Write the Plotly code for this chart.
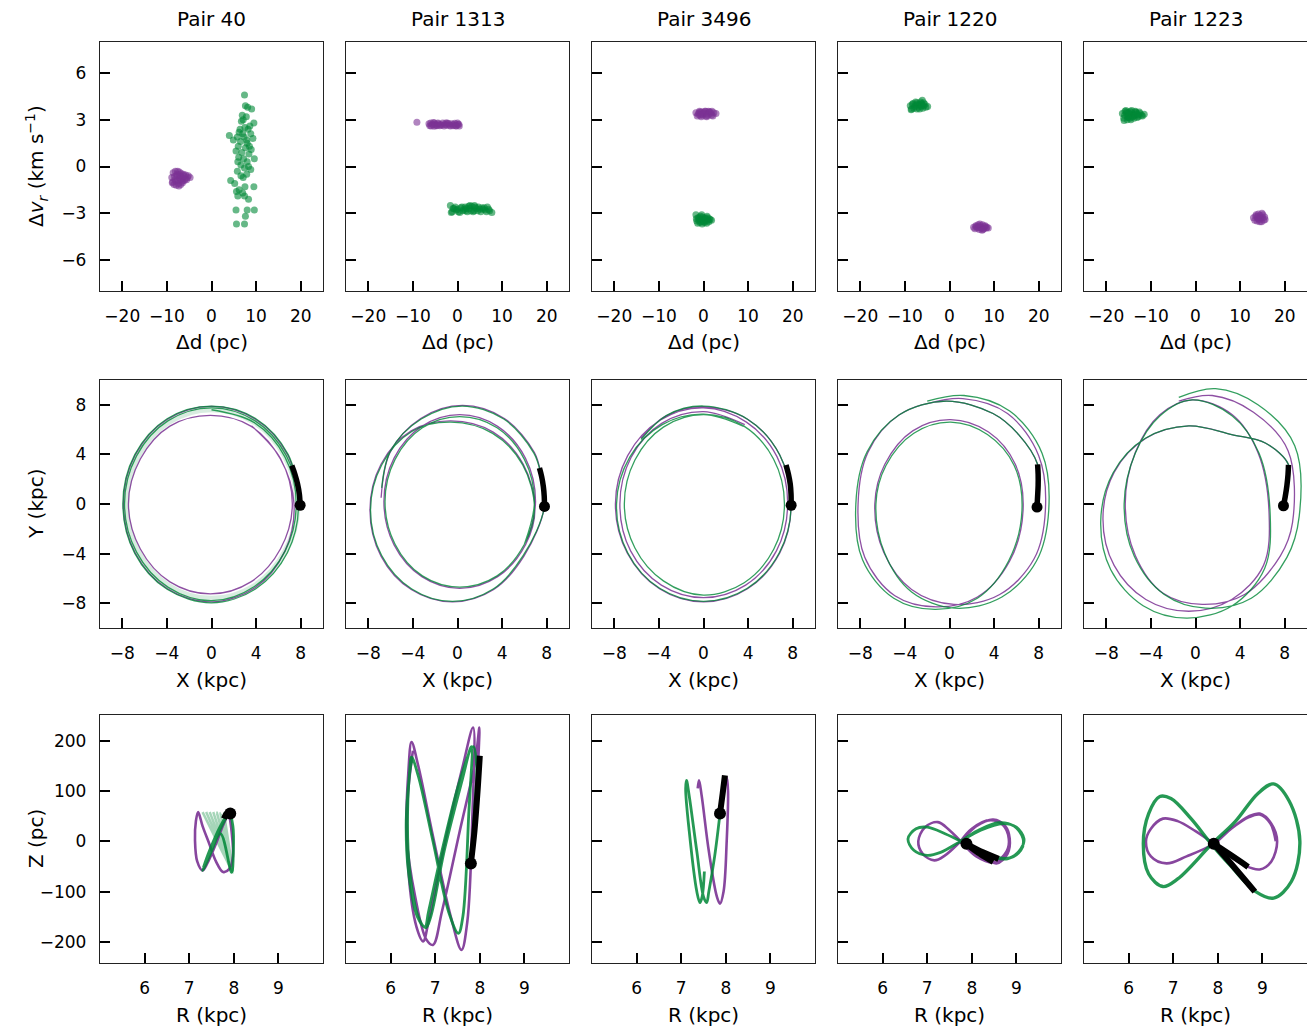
import plotly.graph_objects as go
from plotly.subplots import make_subplots

# The page body has an 8px margin, so the figure is drawn 8px smaller and shifted.
OFF = 8
W, H = 1315 - OFF, 1028 - OFF
PURPLE = '#7b3294'
GREEN = '#008837'
FONT = 'DejaVu Sans'

pairs = ['Pair 40', 'Pair 1313', 'Pair 3496', 'Pair 1220', 'Pair 1223']

# ---------------- Row 1: delta d (pc) vs delta v_r (km/s) ----------------
p40_pur_d = [-8.6,-8.1,-7.6,-7.2,-6.8,-6.3,-5.8,-5.2,-4.8,-8.9,-8.3,-7.8,-7.3,-6.9,-6.4,-5.9,-5.4,-8.7,-8.0,-7.5,-7.0,-6.6,-6.1,-5.6,-8.4,-7.9,-7.4,-6.9,-6.5,-7.7,-7.1,-8.2,-6.2,-8.8,-7.3]
p40_pur_v = [-0.4,-0.3,-0.3,-0.35,-0.45,-0.5,-0.55,-0.6,-0.7,-0.7,-0.65,-0.6,-0.7,-0.65,-0.75,-0.8,-0.7,-1.0,-0.95,-0.9,-0.85,-0.95,-0.9,-0.85,-1.15,-1.2,-1.1,-1.15,-1.05,-0.5,-0.55,-0.85,-0.6,-1.05,-1.25]
p40_grn_d = [7.4,7.6,8.1,9.0,6.9,7.8,6.7,8.6,9.5,7.5,8.2,6.2,7.0,8.8,4.0,5.8,7.3,9.3,4.9,6.5,8.0,6.0,7.6,8.9,5.5,6.8,8.4,6.1,7.2,9.6,5.9,8.0,6.6,7.4,8.8,5.8,7.9,6.6,7.1,4.3,5.2,7.5,9.5,6.2,5.6,7.0,5.9,7.4,8.3,5.5,8.0,9.6,7.6,5.6,7.4,7.9,8.5,6.4,7.1,8.3]
p40_grn_v = [4.6,3.9,3.8,3.7,3.3,3.2,2.9,2.6,2.8,2.5,2.4,2.2,2.1,2.1,2.0,1.9,1.9,1.8,1.7,1.6,1.5,1.3,1.2,1.1,1.0,0.9,0.8,0.6,0.5,0.5,0.3,0.3,0.1,-0.1,-0.2,-0.3,-0.5,-0.6,-0.7,-0.9,-1.1,-1.3,-1.3,-1.5,-1.6,-1.7,-1.9,-1.9,-2.1,-2.8,-2.8,-2.8,-3.2,-3.7,-3.7,1.7,1.3,2.4,3.0,0.0]

p1313_pur_d = [-9.1,-6.4,-6.0,-5.6,-5.2,-4.8,-4.3,-3.8,-3.3,-2.8,-2.3,-1.8,-1.3,-0.8,-0.3,0.1,0.4,-6.2,-5.4,-4.6,-3.6,-2.6,-1.6,-0.6,0.3,-5.9,-5.0,-4.0,-3.0,-2.0,-1.0,0.0,-4.4,-2.4,-0.4,-5.2]
p1313_pur_v = [2.85,2.75,2.8,2.7,2.8,2.65,2.75,2.7,2.8,2.7,2.8,2.65,2.75,2.7,2.6,2.7,2.6,2.62,2.82,2.62,2.65,2.8,2.6,2.78,2.72,2.6,2.72,2.62,2.6,2.76,2.62,2.8,2.8,2.65,2.62,2.58]
p1313_grn_d = [-1.6,-1.2,-0.8,-0.3,0.2,0.7,1.2,1.7,2.2,2.7,3.2,3.7,4.2,4.7,5.2,5.7,6.2,6.7,7.2,7.7,-1.4,-0.5,0.5,1.5,2.5,3.5,4.5,5.5,6.5,-1.0,0.0,1.0,2.0,3.0,4.0,5.0,6.0,7.0,2.8,3.8,1.8]
p1313_grn_v = [-2.5,-2.9,-2.7,-2.8,-2.9,-2.65,-2.85,-2.6,-2.9,-2.7,-2.55,-2.85,-2.7,-2.6,-2.9,-2.75,-2.8,-2.6,-2.85,-2.95,-2.95,-2.6,-2.95,-2.75,-2.55,-2.9,-2.85,-2.65,-2.9,-2.7,-2.75,-2.6,-2.7,-2.85,-2.6,-2.75,-2.65,-2.75,-2.5,-2.5,-2.85]

p3496_pur_d = [-1.7,-1.2,-0.7,-0.2,0.3,0.8,1.3,1.8,2.3,2.8,-1.4,-0.9,-0.4,0.1,0.6,1.1,1.6,2.1,-1.0,-0.5,0.0,0.5,1.0,1.5,-0.3,0.7,1.9,-0.8]
p3496_pur_v = [3.45,3.35,3.5,3.3,3.55,3.4,3.5,3.3,3.45,3.4,3.25,3.55,3.35,3.45,3.25,3.55,3.4,3.25,3.45,3.2,3.4,3.55,3.3,3.5,3.5,3.2,3.55,3.3]
p3496_grn_d = [-1.7,-1.2,-0.7,-0.2,0.3,0.8,1.3,1.8,-1.5,-1.0,-0.5,0.0,0.5,1.0,1.5,-1.3,-0.8,-0.3,0.2,0.7,1.2,-1.0,-0.4,0.4,-0.6,0.1,-1.6,0.9]
p3496_grn_v = [-3.1,-3.3,-3.2,-3.25,-3.3,-3.2,-3.35,-3.45,-3.5,-3.45,-3.4,-3.55,-3.5,-3.45,-3.4,-3.65,-3.6,-3.7,-3.6,-3.65,-3.55,-3.3,-3.1,-3.35,-3.55,-3.45,-3.35,-3.3]

p1220_grn_d = [-8.8,-8.3,-7.8,-7.3,-6.8,-6.3,-5.8,-5.3,-4.9,-8.5,-8.0,-7.5,-7.0,-6.5,-6.0,-5.5,-8.2,-7.6,-7.0,-6.4,-5.8,-7.3,-6.7,-6.1,-8.6,-6.2]
p1220_grn_v = [3.9,4.0,3.85,4.1,3.95,4.05,3.9,3.8,3.85,3.7,3.75,3.95,3.8,4.15,3.75,4.0,4.05,4.15,4.0,3.85,4.1,3.7,3.7,4.25,3.65,3.95]
p1220_pur_d = [5.4,5.9,6.4,6.9,7.4,7.9,8.4,8.7,5.7,6.2,6.7,7.2,7.7,8.2,6.0,6.5,7.0,7.5,8.0,6.8,7.3]
p1220_pur_v = [-3.9,-3.8,-3.75,-3.8,-3.75,-3.85,-3.9,-3.95,-4.0,-3.95,-4.05,-3.95,-4.0,-3.95,-3.85,-3.9,-3.9,-4.05,-3.8,-3.7,-4.1]

p1223_grn_d = [-16.4,-15.9,-15.4,-14.9,-14.4,-13.9,-13.4,-12.9,-12.4,-11.9,-11.5,-16.1,-15.6,-15.1,-14.6,-14.1,-13.6,-13.1,-12.6,-12.1,-15.8,-15.3,-14.8,-14.3,-13.8,-13.3,-12.8,-15.5,-14.5,-13.5,-16.0,-15.0,-14.0,-13.0,-14.7,-15.2]
p1223_grn_v = [3.4,3.3,3.5,3.25,3.45,3.35,3.5,3.3,3.4,3.25,3.35,3.1,3.6,3.15,3.55,3.2,3.3,3.15,3.5,3.3,3.55,3.0,3.35,3.6,3.1,3.45,3.2,3.4,3.0,3.55,2.95,3.45,3.25,3.35,3.1,3.2]
p1223_pur_d = [13.0,13.5,14.0,14.5,15.0,15.5,13.3,13.8,14.3,14.8,15.3,13.6,14.1,14.6,15.1,14.4,14.9,13.9,15.6]
p1223_pur_v = [-3.3,-3.2,-3.35,-3.15,-3.3,-3.25,-3.45,-3.5,-3.4,-3.55,-3.45,-3.1,-3.05,-3.3,-3.1,-3.55,-3.0,-3.25,-3.4]

# ---------------- Row 2: X-Y orbits (kpc) ----------------
p40_pur_x = [7.95,6.84,3.95,0,-3.95,-6.84,-7.9,-6.84,-3.95,0,3.9,6.58,7.4,6.18,3.53,-0.1,-3.73,-6.38,-7.45,-6.38,-3.73,-0.1,3.53,6.18,7.25,6.2,3.6]
p40_pur_y = [-0.1,3.95,6.84,7.88,6.84,3.95,0,-3.95,-6.84,-7.9,-6.75,-3.8,0,3.63,6.28,7.15,6.28,3.63,0,-3.63,-6.28,-7.25,-6.28,-3.63,0,3.65,6.3]
p40_grn_x = [7.95,6.88,3.98,0,-3.98,-6.88,-7.95,-6.88,-3.98,0,3.95,6.8,7.8,6.72,3.88,0,-3.88,-6.72,-7.8,-6.72,-3.88,0,3.85,6.6,7.6,6.58,3.8,0]
p40_grn_y = [-0.1,3.98,6.88,7.9,6.88,3.98,0,-3.98,-6.88,-7.97,-6.85,-3.93,0,3.88,6.72,7.75,6.72,3.88,0,-3.88,-6.72,-7.8,-6.65,-3.8,0,3.8,6.58,7.6]
p40_band_x = [7.7,6.63,3.83,0,-3.83,-6.63,-7.65,-6.63,-3.83,0,3.83,6.63,7.7]
p40_band_y = [0,3.83,6.63,7.65,6.63,3.83,0,-3.83,-6.63,-7.65,-6.63,-3.83,0]

p1313_pur_x = [-6.85,-6.05,-3.3,0.45,4.2,6.9,7.5,7.8,5.96,3.25,-0.45,-4.15,-6.86,-7.85,-6.86,-4.15,-0.6,3.2,5.9,6.95,6.09,3.6,0.2,-3.2,-5.69,-6.6,-5.69,-3.2,0.2,3.6,6.09,7.0,6.1]
p1313_pur_y = [0.5,4.15,6.9,7.95,6.9,4.15,2.3,-0.2,-4.2,-6.9,-7.9,-6.9,-4.2,-0.5,3.2,5.9,6.7,5.8,3.2,-0.4,-3.3,-5.86,-6.8,-5.86,-3.3,0.2,3.7,6.26,7.2,6.26,3.7,0.2,-3.3]
p1313_grn_x = [-6.8,-6.0,-3.25,0.4,4.15,6.85,7.5,7.8,5.9,3.2,-0.45,-4.1,-6.8,-7.8,-6.8,-4.1,-0.6,3.15,5.85,6.9,6.0,3.55,0.2,-3.15,-5.6,-6.5,-5.6,-3.15,0.2,3.55,6.0,6.9,6.0]
p1313_grn_y = [1.3,4.3,6.85,7.9,6.85,4.1,2.3,-0.2,-4.15,-6.85,-7.85,-6.85,-4.15,-0.5,3.15,5.85,6.6,5.7,3.15,-0.4,-3.25,-5.8,-6.7,-5.8,-3.25,0.2,3.6,6.15,7.05,6.15,3.6,0.2,-3.25]

p3496_pur_x = [-5.6,-3.4,0,3.95,6.84,7.86,6.84,3.95,0,-3.95,-6.84,-7.9,-6.8,-3.9,0,3.85,6.6,7.55,6.54,3.78,0,-3.78,-6.54,-7.5,-6.5,-3.75,0,3.7]
p3496_pur_y = [5.3,7.1,7.85,6.84,3.95,-0.1,-3.95,-6.84,-7.9,-6.84,-3.95,0,3.9,6.75,7.75,6.6,3.8,0,-3.78,-6.54,-7.55,-6.54,-3.78,0,3.75,6.5,7.45,6.4]
p3496_grn_x = [-5.6,-3.3,0,3.95,6.84,7.86,6.8,3.93,0,-3.93,-6.8,-7.8,-6.6,-3.7,0,3.63,6.28,7.26,6.3,3.65,0,-3.6,-6.15,-7.1,-6.15,-3.6,0,3.6]
p3496_grn_y = [5.2,7.15,7.9,6.84,3.95,-0.1,-3.93,-6.8,-7.85,-6.8,-3.93,0,3.8,6.4,7.25,6.28,3.63,0,-3.65,-6.35,-7.35,-6.2,-3.55,0,3.55,6.2,7.2,6.25]

p1220_pur_x = [7.85,8.0,7.9,6.2,3.9,-0.3,-4.5,-7.3,-8.2,-7.6,-4.9,-1.2,2.5,5.4,6.6,5.9,3.5,0.1,-3.3,-5.8,-6.7,-5.9,-3.4,0.4,4.5,7.6,8.6,8.0,5.2,1.2,-2.0]
p1220_pur_y = [-0.25,1.6,3.2,5.6,7.3,8.3,7.2,4.2,0.0,-4.3,-7.4,-8.3,-7.5,-4.6,-0.5,3.2,5.8,6.8,5.9,3.2,0.0,-3.9,-6.9,-8.1,-7.3,-4.4,-0.5,3.9,7.3,8.5,8.1]
p1220_grn_x = [7.85,8.0,7.9,6.2,3.9,-0.3,-4.5,-7.4,-8.4,-7.8,-5.0,-1.3,2.5,5.3,6.5,5.8,3.4,0.1,-3.2,-5.7,-6.6,-5.8,-3.4,0.5,4.7,7.8,8.9,8.3,5.4,1.3,-2.0]
p1220_grn_y = [-0.25,1.6,3.2,5.6,7.3,8.3,7.2,4.2,0.0,-4.5,-7.6,-8.5,-7.6,-4.6,-0.5,3.1,5.6,6.6,5.7,3.1,0.0,-4.0,-7.1,-8.4,-7.5,-4.6,-0.5,4.1,7.5,8.75,8.3]

p1223_pur_x = [7.89,8.2,8.34,6.3,3.25,-0.6,-4.45,-7.3,-8.3,-7.3,-4.45,-0.6,3.25,6.1,6.6,5.6,3.3,-0.3,-3.2,-5.4,-6.3,-5.4,-2.9,0.6,4.4,7.6,8.7,8.3,5.2,1.5,-1.5]
p1223_pur_y = [-0.14,1.6,3.16,4.9,5.6,6.3,5.3,2.55,-1.2,-4.95,-7.7,-8.65,-7.7,-4.95,-0.8,4.15,7.2,8.4,7.2,4.15,0.0,-4.15,-7.2,-8.1,-7.3,-4.2,-1.5,4.3,7.4,8.75,8.3]
p1223_grn_x = [7.89,8.2,8.34,6.3,3.25,-0.6,-4.5,-7.4,-8.5,-7.6,-4.7,-0.8,3.3,6.2,6.7,5.7,3.3,-0.3,-3.2,-5.4,-6.4,-5.5,-2.8,0.9,5.0,8.2,9.3,8.9,5.6,1.8,-1.5]
p1223_grn_y = [-0.14,1.6,3.16,4.9,5.6,6.3,5.3,2.5,-1.4,-5.3,-8.2,-9.2,-8.2,-5.2,-0.9,4.1,7.1,8.4,7.1,4.1,0.0,-4.2,-7.3,-8.4,-7.6,-4.3,-1.0,4.7,8.0,9.3,8.6]

# black recent tracks (X-Y): last point is the present position
arc_xy_x = [[7.2,7.48,7.72,7.88,7.95],[7.35,7.55,7.7,7.78,7.8],[7.4,7.62,7.78,7.85,7.86],[7.9,7.95,7.95,7.9,7.85],[8.34,8.3,8.2,8.05,7.89]]
arc_xy_y = [[3.1,2.4,1.6,0.8,-0.1],[2.9,2.2,1.4,0.6,-0.2],[3.15,2.4,1.6,0.8,-0.1],[3.2,2.4,1.5,0.6,-0.25],[3.16,2.4,1.5,0.6,-0.14]]

# ---------------- Row 3: R (kpc) - Z (pc) ----------------
p40_pur_r = [7.9,7.95,7.98,7.9,7.76,7.6,7.45,7.3,7.2,7.15,7.13,7.18,7.3,7.4,7.6,7.75,7.88]
p40_pur_z = [52,20,-30,-55,-61,-40,-5,30,58,40,2,-40,-58,-45,-5,30,55]
p40_grn_r = [7.88,7.7,7.5,7.34,7.3,7.45,7.7,7.95,7.99,7.98,7.9,7.7,7.45,7.32]
p40_grn_z = [55,25,-20,-52,-58,-30,15,-62,-20,30,56,30,-20,-52]
p40_fan_r = [7.3,7.98,7.38,7.98,7.46,7.98,7.54,7.98,7.62,7.98,7.7,7.95,7.78,7.98]
p40_fan_z = [58,-62,58,-62,58,-62,58,-62,57,-60,56,-58,56,-60]

p1313_pur_r = [7.80,7.90,7.97,7.99,7.90,7.55,7.15,6.95,6.80,6.55,6.36,6.40,6.47,6.62,6.95,7.35,7.59,7.72,7.83,7.85,7.62,7.20,6.85,6.73,6.58,6.40,6.38,6.50]
p1313_pur_z = [-44,60,170,226,160,20,-140,-206,-195,-110,10,140,197,150,10,-150,-216,-160,40,226,150,-10,-160,-199,-170,-60,80,180]
p1313_grn_r = [7.80,7.88,7.93,7.85,7.55,7.15,6.85,6.77,6.60,6.40,6.35,6.42,6.47,6.62,6.95,7.30,7.52,7.62,7.75,7.81,7.60,7.20,6.90,6.79,6.62,6.43,6.38,6.45,6.50]
p1313_grn_z = [-44,60,150,188,120,-20,-140,-170,-150,-60,40,130,167,130,0,-140,-183,-150,50,188,120,-20,-150,-172,-150,-60,50,150,167]

p3496_pur_r = [7.87,7.95,8.02,8.05,8.02,7.95,7.87,7.8,7.62,7.46,7.40,7.37]
p3496_pur_z = [55,95,127,100,0,-100,-124,-110,-20,90,121,105]
p3496_grn_r = [7.87,7.75,7.62,7.57,7.50,7.35,7.18,7.12,7.10,7.18,7.35,7.42,7.47,7.52]
p3496_grn_z = [55,-30,-100,-122,-110,-20,90,121,105,20,-100,-122,-110,-60]

p1220_pur_r = [7.88,8.2,8.55,8.8,8.85,8.75,8.48,8.1,7.75,7.4,7.16,6.9,6.8,6.95,7.24,7.5,7.75,8.1,8.5,8.78,8.83,8.7,8.42,8.0,7.75]
p1220_pur_z = [-5,-25,-44,-25,5,30,43,30,0,-28,-38,-25,0,28,38,22,0,-30,-42,-20,5,32,42,25,0]
p1220_grn_r = [7.88,8.3,8.85,9.1,9.17,9.0,8.7,8.2,7.75,7.3,7.0,6.7,6.57,6.75,7.0,7.4,7.75,8.3,8.8,9.1,9.15,8.95,8.6,8.15,7.75]
p1220_grn_z = [-5,-25,-33,-15,5,28,35,22,0,-22,-28,-18,5,25,28,15,0,-27,-35,-18,5,30,37,22,0]

p1223_pur_r = [7.91,8.3,8.7,8.94,9.2,9.33,9.2,8.94,8.6,8.2,7.91,7.5,7.1,6.77,6.5,6.39,6.5,6.85,7.3,7.91,8.3,8.7,8.94,9.18,9.3]
p1223_pur_z = [-5,25,50,55,35,0,-40,-56,-48,-25,-5,20,40,45,25,0,-30,-44,-30,-5,25,48,53,35,0]
p1223_grn_r = [7.86,8.4,8.9,9.25,9.6,9.84,9.65,9.25,8.85,8.3,7.86,7.4,6.95,6.7,6.45,6.33,6.45,6.77,7.1,7.86]
p1223_grn_z = [-6,40,95,114,80,0,-80,-113,-100,-50,-6,45,85,89,55,-5,-65,-90,-75,-6]

# black recent tracks (R-Z); first point is the present position
trk_rz_r = [[[7.92,7.85,7.78]], [[7.8,7.88,7.95,8.0]], [[7.87,7.93,7.98]], [[7.88,8.18,8.48],[7.88,8.25,8.6]], [[7.91,8.3,8.68],[7.91,8.4,8.83]]]
trk_rz_z = [[[55,56,45]], [[-44,20,100,170]], [[55,95,131]], [[-5,-25,-41],[-5,-22,-35]], [[-5,-28,-51],[-5,-55,-100]]]

row1 = [
    (p40_pur_d, p40_pur_v, p40_grn_d, p40_grn_v),
    (p1313_pur_d, p1313_pur_v, p1313_grn_d, p1313_grn_v),
    (p3496_pur_d, p3496_pur_v, p3496_grn_d, p3496_grn_v),
    (p1220_pur_d, p1220_pur_v, p1220_grn_d, p1220_grn_v),
    (p1223_pur_d, p1223_pur_v, p1223_grn_d, p1223_grn_v),
]
row2 = [
    (p40_pur_x, p40_pur_y, p40_grn_x, p40_grn_y),
    (p1313_pur_x, p1313_pur_y, p1313_grn_x, p1313_grn_y),
    (p3496_pur_x, p3496_pur_y, p3496_grn_x, p3496_grn_y),
    (p1220_pur_x, p1220_pur_y, p1220_grn_x, p1220_grn_y),
    (p1223_pur_x, p1223_pur_y, p1223_grn_x, p1223_grn_y),
]
row3 = [
    (p40_pur_r, p40_pur_z, p40_grn_r, p40_grn_z),
    (p1313_pur_r, p1313_pur_z, p1313_grn_r, p1313_grn_z),
    (p3496_pur_r, p3496_pur_z, p3496_grn_r, p3496_grn_z),
    (p1220_pur_r, p1220_pur_z, p1220_grn_r, p1220_grn_z),
    (p1223_pur_r, p1223_pur_z, p1223_grn_r, p1223_grn_z),
]

fig = make_subplots(rows=3, cols=5)

for c in range(5):
    pd_, pv, gd, gv = row1[c]
    fig.add_trace(go.Scatter(x=pd_, y=pv, mode='markers',
                             marker=dict(size=7, color=PURPLE, opacity=0.6, line=dict(width=0))),
                  row=1, col=c + 1)
    fig.add_trace(go.Scatter(x=gd, y=gv, mode='markers',
                             marker=dict(size=7, color=GREEN, opacity=0.6, line=dict(width=0))),
                  row=1, col=c + 1)

for c in range(5):
    px_, py_, gx, gy = row2[c]
    if c == 0:
        fig.add_trace(go.Scatter(x=p40_band_x, y=p40_band_y, mode='lines',
                                 line=dict(color=GREEN, width=6, shape='spline', smoothing=1.0),
                                 opacity=0.15), row=2, col=1)
    fig.add_trace(go.Scatter(x=px_, y=py_, mode='lines',
                             line=dict(color=PURPLE, width=1.3, shape='spline', smoothing=1.0),
                             opacity=0.85), row=2, col=c + 1)
    fig.add_trace(go.Scatter(x=gx, y=gy, mode='lines',
                             line=dict(color=GREEN, width=1.3, shape='spline', smoothing=1.0),
                             opacity=0.8), row=2, col=c + 1)
    fig.add_trace(go.Scatter(x=arc_xy_x[c], y=arc_xy_y[c], mode='lines',
                             line=dict(color='black', width=5.5, shape='spline')),
                  row=2, col=c + 1)
    fig.add_trace(go.Scatter(x=[arc_xy_x[c][-1]], y=[arc_xy_y[c][-1]], mode='markers',
                             marker=dict(size=11, color='black')), row=2, col=c + 1)

for c in range(5):
    pr, pz, gr, gz = row3[c]
    if c == 0:
        fig.add_trace(go.Scatter(x=p40_fan_r, y=p40_fan_z, mode='lines',
                                 line=dict(color=GREEN, width=2.5, shape='spline', smoothing=0.6),
                                 opacity=0.35), row=3, col=1)
    fig.add_trace(go.Scatter(x=pr, y=pz, mode='lines',
                             line=dict(color=PURPLE, width=2.6, shape='spline', smoothing=1.0),
                             opacity=0.9), row=3, col=c + 1)
    fig.add_trace(go.Scatter(x=gr, y=gz, mode='lines',
                             line=dict(color=GREEN, width=2.8 if c < 4 else 3.4, shape='spline', smoothing=1.0),
                             opacity=0.85), row=3, col=c + 1)
    for tr, tz in zip(trk_rz_r[c], trk_rz_z[c]):
        fig.add_trace(go.Scatter(x=tr, y=tz, mode='lines',
                                 line=dict(color='black', width=6, shape='spline')),
                      row=3, col=c + 1)
    fig.add_trace(go.Scatter(x=[trk_rz_r[c][0][0]], y=[trk_rz_z[c][0][0]], mode='markers',
                             marker=dict(size=12, color='black')), row=3, col=c + 1)

col_left = [100 - OFF, 346 - OFF, 592 - OFF, 838 - OFF, 1084 - OFF]
panel_w = 223
row_top = [42 - OFF, 380 - OFF, 715 - OFF]
panel_h = [249, 248, 248]

row_cfg = [
    dict(xr=[-25, 25], yr=[-8, 8], xt=[-20, -10, 0, 10, 20], yt=[-6, -3, 0, 3, 6]),
    dict(xr=[-10, 10], yr=[-10, 10], xt=[-8, -4, 0, 4, 8], yt=[-8, -4, 0, 4, 8]),
    dict(xr=[5, 10], yr=[-242, 251], xt=[6, 7, 8, 9], yt=[-200, -100, 0, 100, 200]),
]

axis_common = dict(showline=True, mirror=True, linecolor='#222', linewidth=1.3,
                   ticks='inside', ticklen=10, tickwidth=1.5, tickcolor='black',
                   showgrid=False, zeroline=False,
                   tickfont=dict(family=FONT, size=17, color='black'))

for r in range(3):
    for c in range(5):
        i = r * 5 + c + 1
        xa = 'xaxis' if i == 1 else f'xaxis{i}'
        ya = 'yaxis' if i == 1 else f'yaxis{i}'
        cfg = row_cfg[r]
        L = col_left[c]
        T = row_top[r]
        fig.layout[xa].update(domain=[L / W, (L + panel_w) / W], range=cfg['xr'],
                              tickmode='array', tickvals=cfg['xt'], ticklabelstandoff=9,
                              **axis_common)
        fig.layout[ya].update(domain=[1 - (T + panel_h[r]) / H, 1 - T / H], range=cfg['yr'],
                              tickmode='array', tickvals=cfg['yt'], ticklabelstandoff=9,
                              showticklabels=(c == 0), **axis_common)

ann = []
for c in range(5):
    cx = (col_left[c] + panel_w / 2) / W
    ann.append(dict(text=pairs[c], x=cx, y=1 - (19 - OFF) / H, xref='paper', yref='paper',
                    showarrow=False, xanchor='center', yanchor='middle',
                    font=dict(family=FONT, size=20, color='black')))
    for lab, yy in [('Δd (pc)', 342), ('X (kpc)', 680), ('R (kpc)', 1015)]:
        ann.append(dict(text=lab, x=cx, y=1 - (yy - OFF) / H, xref='paper', yref='paper',
                        showarrow=False, xanchor='center', yanchor='middle',
                        font=dict(family=FONT, size=20, color='black')))
for lab, yy in [('Δ<i>v</i><sub><i>r</i></sub> (km s<sup>−1</sup>)', 166),
                ('Y (kpc)', 504), ('Z (pc)', 839)]:
    ann.append(dict(text=lab, x=(36 - OFF) / W, y=1 - (yy - OFF) / H, xref='paper', yref='paper',
                    showarrow=False, xanchor='center', yanchor='middle', textangle=-90,
                    font=dict(family=FONT, size=20, color='black')))

fig.update_layout(width=W, height=H, margin=dict(l=0, r=0, t=0, b=0),
                  paper_bgcolor='white', plot_bgcolor='white',
                  showlegend=False, hovermode=False, annotations=ann,
                  font=dict(family=FONT, color='black'))

fig.write_html('out.html')
